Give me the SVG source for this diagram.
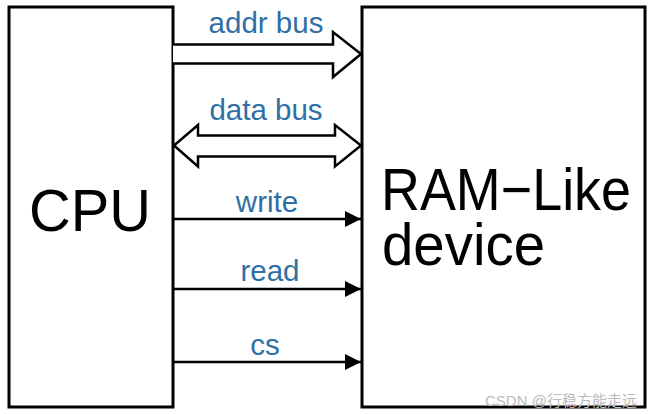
<svg xmlns="http://www.w3.org/2000/svg" width="650" height="414" viewBox="0 0 650 414">
<defs>
<style>
.box{fill:#fff;stroke:#000;stroke-width:3}
.big{font-family:"Liberation Sans",Arial,sans-serif;font-size:60px;fill:#000}
.lbl{font-family:"Liberation Sans",Arial,sans-serif;font-size:29.5px;fill:#2e6fa5;text-anchor:middle}
.wire{stroke:#000;stroke-width:2.5;fill:none}
.bus{stroke:#000;stroke-width:2.5;fill:#fff;stroke-linejoin:miter}
.wm{font-family:"Liberation Sans","Noto Sans CJK SC",sans-serif;font-size:15px;fill:#bbb}
</style>
<marker id="ah" viewBox="0 0 16 16" refX="16" refY="8" markerWidth="16" markerHeight="16" markerUnits="userSpaceOnUse" orient="auto">
<path d="M0,0 L16,8 L0,16 Z" fill="#000"/>
</marker>
</defs>
<rect width="650" height="414" fill="#fff"/>
<g id="cpu">
<rect class="box" x="9" y="7" width="164" height="400"/>
<text class="big" x="29" y="231" textLength="122" lengthAdjust="spacingAndGlyphs">CPU</text>
</g>
<g id="ram">
<rect class="box" x="362" y="7" width="283" height="400"/>
<text class="big" x="381" y="210" textLength="250" lengthAdjust="spacingAndGlyphs">RAM−Like</text>
<text class="big" x="382" y="265" textLength="163" lengthAdjust="spacingAndGlyphs">device</text>
</g>
<g id="connectors">
<path class="bus" d="M173,44.5 L333,44.5 L333,32 L361,54 L333,77 L333,63.5 L173,63.5"/>
<path class="bus" d="M174,145.5 L198,125 L198,135.5 L335,135.5 L335,125 L361,145.5 L335,166.5 L335,156.5 L198,156.5 L198,166.5 Z"/>
<line class="wire" x1="173" y1="219" x2="361" y2="219" marker-end="url(#ah)"/>
<line class="wire" x1="173" y1="289" x2="361" y2="289" marker-end="url(#ah)"/>
<line class="wire" x1="173" y1="362" x2="361" y2="362" marker-end="url(#ah)"/>
</g>
<g id="labels">
<text class="lbl" x="266" y="33">addr bus</text>
<text class="lbl" x="266" y="120">data bus</text>
<text class="lbl" x="267" y="212">write</text>
<text class="lbl" x="270" y="281">read</text>
<text class="lbl" x="265" y="355">cs</text>
</g>
<text class="wm" x="485" y="406">CSDN @行稳方能走远</text>
</svg>
